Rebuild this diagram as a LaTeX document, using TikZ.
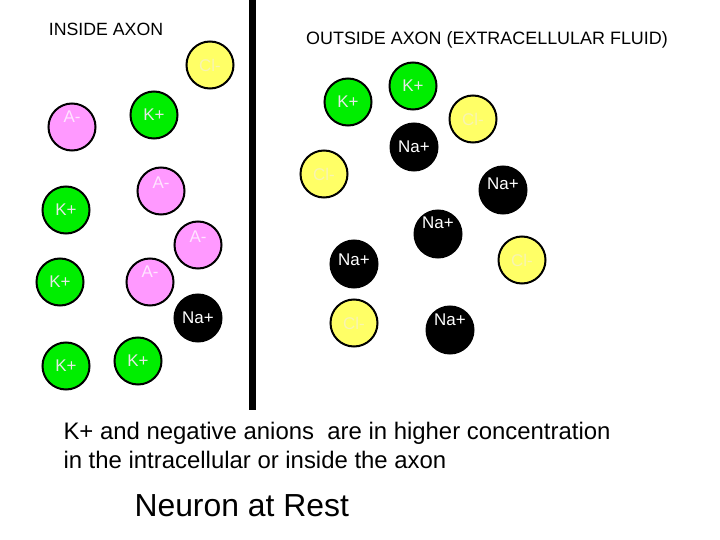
\documentclass[tikz,border=0pt]{standalone}
\usepackage{fontspec}
\setmainfont{Liberation Sans}
\usepackage{xcolor}
\usepackage{tikz}
\definecolor{kgreen}{RGB}{0,238,0}
\definecolor{ktext}{RGB}{232,232,232}
\definecolor{apink}{RGB}{255,153,255}
\definecolor{atext}{RGB}{255,228,255}
\definecolor{clyellow}{RGB}{255,255,102}
\definecolor{cltext}{RGB}{248,244,178}
\tikzset{
  ion/.style={circle, draw=black, line width=2bp, minimum size=47bp, inner sep=0pt, font=\fontsize{17}{20}\selectfont},
  kion/.style={ion, fill=kgreen, text=ktext},
  aion/.style={ion, fill=apink, text=atext},
  clion/.style={ion, fill=clyellow, text=cltext},
  naion/.style={ion, fill=black, text=white},
  lift/.style={text depth=#1}
}

\begin{document}
\begin{tikzpicture}[x=1bp,y=-1bp]
\useasboundingbox (0,0) rectangle (720,540);
\fill [black] (249,0) rectangle (256,410);
\node [anchor=base, font=\fontsize{17.8}{21}\selectfont] (inside) at (106,36) {INSIDE AXON};
\node [anchor=base, font=\fontsize{18}{21}\selectfont] (outside) at (487,45) {OUTSIDE AXON (EXTRACELLULAR FLUID)};
\node [clion] (cl1) at (210,65) {Cl-};
\node [aion, lift=20bp] (a1) at (72,127) {A-};
\node [kion] (k1) at (154,115) {K+};
\node [kion] (k2) at (348,102) {K+};
\node [kion] (k3) at (413,86) {K+};
\node [clion] (cl2) at (473,119) {Cl-};
\node [naion] (na1) at (414,147) {Na+};
\node [clion] (cl3) at (324,174) {Cl-};
\node [naion, lift=12bp] (na2) at (503,190) {Na+};
\node [aion, lift=16bp] (a2) at (161,191) {A-};
\node [kion] (k4) at (66,210) {K+};
\node [aion, lift=16bp] (a3) at (198,245) {A-};
\node [naion, lift=22bp] (na3) at (438,234) {Na+};
\node [clion] (cl4) at (522,260) {Cl-};
\node [kion] (k5) at (60,282) {K+};
\node [aion, lift=20bp] (a4) at (150,282) {A-};
\node [naion, lift=8bp] (na4) at (354,264) {Na+};
\node [naion] (na5) at (198,318) {Na+};
\node [clion] (cl5) at (354,323) {Cl-};
\node [naion, lift=20bp] (na6) at (450,330) {Na+};
\node [kion] (k6) at (66,366) {K+};
\node [kion] (k7) at (138,361) {K+};
\node [anchor=base west, font=\fontsize{24}{28}\selectfont] (note1) at (60,439) {K+ and negative anions~ are in higher concentration};
\node [anchor=base west, font=\fontsize{24}{28}\selectfont] (note2) at (60,468) {in the intracellular or inside the axon};
\node [anchor=base west, font=\fontsize{32}{38}\selectfont] (title) at (131,516) {Neuron at Rest};
\end{tikzpicture}
\end{document}
